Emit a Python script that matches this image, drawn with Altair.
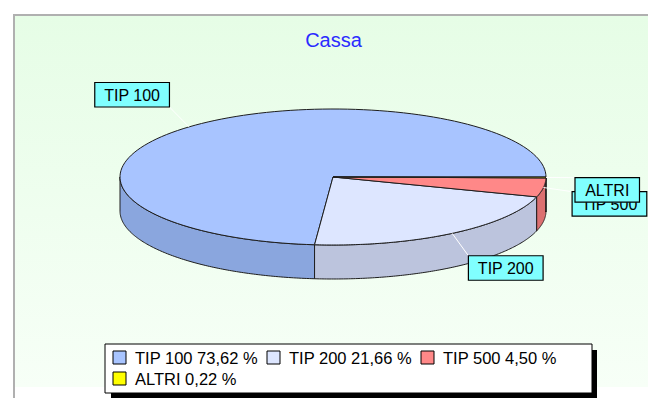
import altair as alt
import pandas as pd

# ---- data ----
categories = ["TIP 100", "TIP 200", "TIP 500", "ALTRI"]
values = [73.62, 21.66, 4.50, 0.22]
title_text = "Cassa"

# ---- styles ----
top_colors = ["#a8c4ff", "#dde6ff", "#ff8888", "#ffff00"]
side_colors = ["#8aa6de", "#bcc4dd", "#dc7070", "#c8c800"]
FONT = "Liberation Sans"

legend_labels = [f"{c} {v:.2f}".replace(".", ",") + " %" for c, v in zip(categories, values)]
slices = pd.DataFrame({"idx": list(range(len(categories))), "cat": categories,
                       "value": values, "leg": legend_labels})

# ---- geometry (page pixel space) ----
CX, CY, RX, RY, DEPTH = 333, 177, 213, 68, 34
N = 120

xs = alt.Scale(domain=[8, 648], nice=False, zero=False)
ys = alt.Scale(domain=[8, 398], nice=False, zero=False, reverse=True)
X = lambda f: alt.X(f, type="quantitative", scale=xs, axis=None)
Y = lambda f: alt.Y(f, type="quantitative", scale=ys, axis=None)

dummy = pd.DataFrame({"d": [0]})

panel = alt.Chart(dummy).mark_rect(fill="white", stroke="#b0b0b0", strokeWidth=2).encode(
    x=alt.value(14 - 8), x2=alt.value(651 - 8), y=alt.value(15 - 8), y2=alt.value(420))
grad = alt.Chart(dummy).mark_rect(
    fill=alt.LinearGradient(gradient="linear",
                            stops=[alt.GradientStop(color="#e6fde6", offset=0),
                                   alt.GradientStop(color="#f7fff7", offset=1)],
                            x1=0, x2=0, y1=0, y2=1)).encode(
    x=alt.value(15 - 8), x2=alt.value(650 - 8), y=alt.value(16 - 8), y2=alt.value(387 - 8))

title = alt.Chart(pd.DataFrame({"t": [title_text]})).mark_text(
    font=FONT, fontSize=20, color="#2b2bff", align="center", baseline="alphabetic").encode(
    x=alt.value(333.5 - 8), y=alt.value(46.5 - 8), text="t:N")

base = alt.Chart(slices).transform_window(
    cum="sum(value)", sort=[alt.SortField("idx", order="ascending")], frame=[None, 0]
).transform_joinaggregate(total="sum(value)").transform_calculate(
    a0="2*PI*(datum.cum - datum.value)/datum.total"
).transform_calculate(
    a1="2*PI*datum.cum/datum.total"
)

# side walls (front half only)
side = base.transform_calculate(s0="max(datum.a0, PI)").transform_calculate(
    s1="min(datum.a1, 2*PI)"
).transform_filter("datum.s1 > datum.s0").transform_calculate(
    k=f"sequence(0, {2 * N + 3})"
).transform_flatten(["k"]).transform_calculate(
    t=(f"datum.k <= {N} ? datum.s0 + (datum.s1 - datum.s0)*datum.k/{N} : "
       f"(datum.k <= {2 * N + 1} ? datum.s1 - (datum.s1 - datum.s0)*(datum.k - {N + 1})/{N} : datum.s0)")
).transform_calculate(
    off=f"(datum.k > {N} && datum.k <= {2 * N + 1}) ? {DEPTH} : 0"
).transform_calculate(
    px=f"{CX} + {RX}*cos(datum.t)"
).transform_calculate(
    py=f"{CY} - {RY}*sin(datum.t) + datum.off"
).mark_line(stroke="#1e1e1e", strokeWidth=1, strokeJoin="round").encode(
    x=X("px"), y=Y("py"),
    fill=alt.Fill("leg:N", scale=alt.Scale(domain=legend_labels, range=side_colors), legend=None),
    detail="cat:N", order=alt.Order("k:Q"))

# top faces
top = base.transform_calculate(k=f"sequence(0, {N + 3})").transform_flatten(["k"]).transform_calculate(
    t=f"datum.a0 + (datum.a1 - datum.a0)*(datum.k - 1)/{N}"
).transform_calculate(
    isc=f"datum.k == 0 || datum.k == {N + 2}"
).transform_calculate(
    px=f"datum.isc ? {CX} : {CX} + {RX}*cos(datum.t)"
).transform_calculate(
    py=f"datum.isc ? {CY} : {CY} - {RY}*sin(datum.t)"
).mark_line(stroke="#1e1e1e", strokeWidth=1, strokeJoin="round").encode(
    x=X("px"), y=Y("py"),
    fill=alt.Fill("leg:N", scale=alt.Scale(domain=legend_labels, range=top_colors), legend=None),
    detail="cat:N", order=alt.Order("k:Q"))

# labels
lab = base.transform_calculate(mid="(datum.a0 + datum.a1)/2").transform_calculate(
    c="cos(datum.mid)").transform_calculate(s="sin(datum.mid)").transform_calculate(
    ex=f"{CX} + {RX}*datum.c").transform_calculate(
    ey=f"{CY} - {RY}*datum.s").transform_calculate(
    ax=f"{CX} + {RX + 29}*datum.c").transform_calculate(
    ay=f"{CY} - {RY + 27}*datum.s").transform_calculate(
    w="length(datum.cat)*5.1 + 39").transform_calculate(
    x1="datum.c < 0 ? datum.ax - datum.w : datum.ax").transform_calculate(
    y1="datum.s > 0 ? datum.ay - 24.5 : datum.ay").transform_calculate(
    x2="datum.x1 + datum.w").transform_calculate(
    y2="datum.y1 + 24.5").transform_calculate(
    tx="datum.x1 + datum.w/2").transform_calculate(
    ty="datum.y1 + 12.25 + 5.8")

arrows = lab.mark_rule(color="white", strokeWidth=1).encode(
    x=X("ex"), y=Y("ey"), x2="ax:Q", y2="ay:Q")

label_layers = []
for cat in categories:
    sub = lab.transform_filter(alt.datum.cat == cat)
    label_layers.append(sub.mark_rect(fill="#80ffff", stroke="black", strokeWidth=1.2).encode(
        x=X("x1"), x2="x2:Q", y=Y("y1"), y2="y2:Q"))
    label_layers.append(sub.mark_text(font=FONT, fontSize=16, color="black", align="center",
                                      baseline="alphabetic").encode(
        x=X("tx"), y=Y("ty"), text="cat:N"))

# legend
shadow = alt.Chart(dummy).mark_rect(fill="black").encode(
    x=alt.value(111 - 8), x2=alt.value(597 - 8), y=alt.value(350 - 8), y2=alt.value(399 - 8))
frame = alt.Chart(dummy).mark_rect(fill="white", stroke="black", strokeWidth=1).encode(
    x=alt.value(105 - 8), x2=alt.value(592 - 8), y=alt.value(344 - 8), y2=alt.value(393 - 8))

legbase = alt.Chart(slices).transform_calculate(col="datum.idx % 3").transform_calculate(
    row="floor(datum.idx / 3)").transform_calculate(
    sx="113 + datum.col*154").transform_calculate(
    sy="351 + datum.row*21").transform_calculate(
    sx2="datum.sx + 13").transform_calculate(
    sy2="datum.sy + 13").transform_calculate(
    lx="datum.sx + 22").transform_calculate(
    ly="datum.sy + 12.8")

leg_sym = legbase.mark_rect(stroke="black", strokeWidth=1).encode(
    x=X("sx"), x2="sx2:Q", y=Y("sy"), y2="sy2:Q",
    fill=alt.Fill("leg:N", scale=alt.Scale(domain=legend_labels, range=top_colors), legend=None))
leg_txt = legbase.mark_text(font=FONT, fontSize=16.5, color="black", align="left",
                            baseline="alphabetic").encode(
    x=X("lx"), y=Y("ly"), text="leg:N")

chart = alt.layer(
    panel, grad, title, side, top, arrows, *label_layers, shadow, frame, leg_sym, leg_txt
).resolve_scale(fill="independent").properties(
    width=640, height=390, padding=0, autosize=alt.AutoSizeParams(type="none"),
    background="white"
).configure_view(stroke=None)

chart.save("out.html", embed_options={"renderer": "svg", "actions": False})
